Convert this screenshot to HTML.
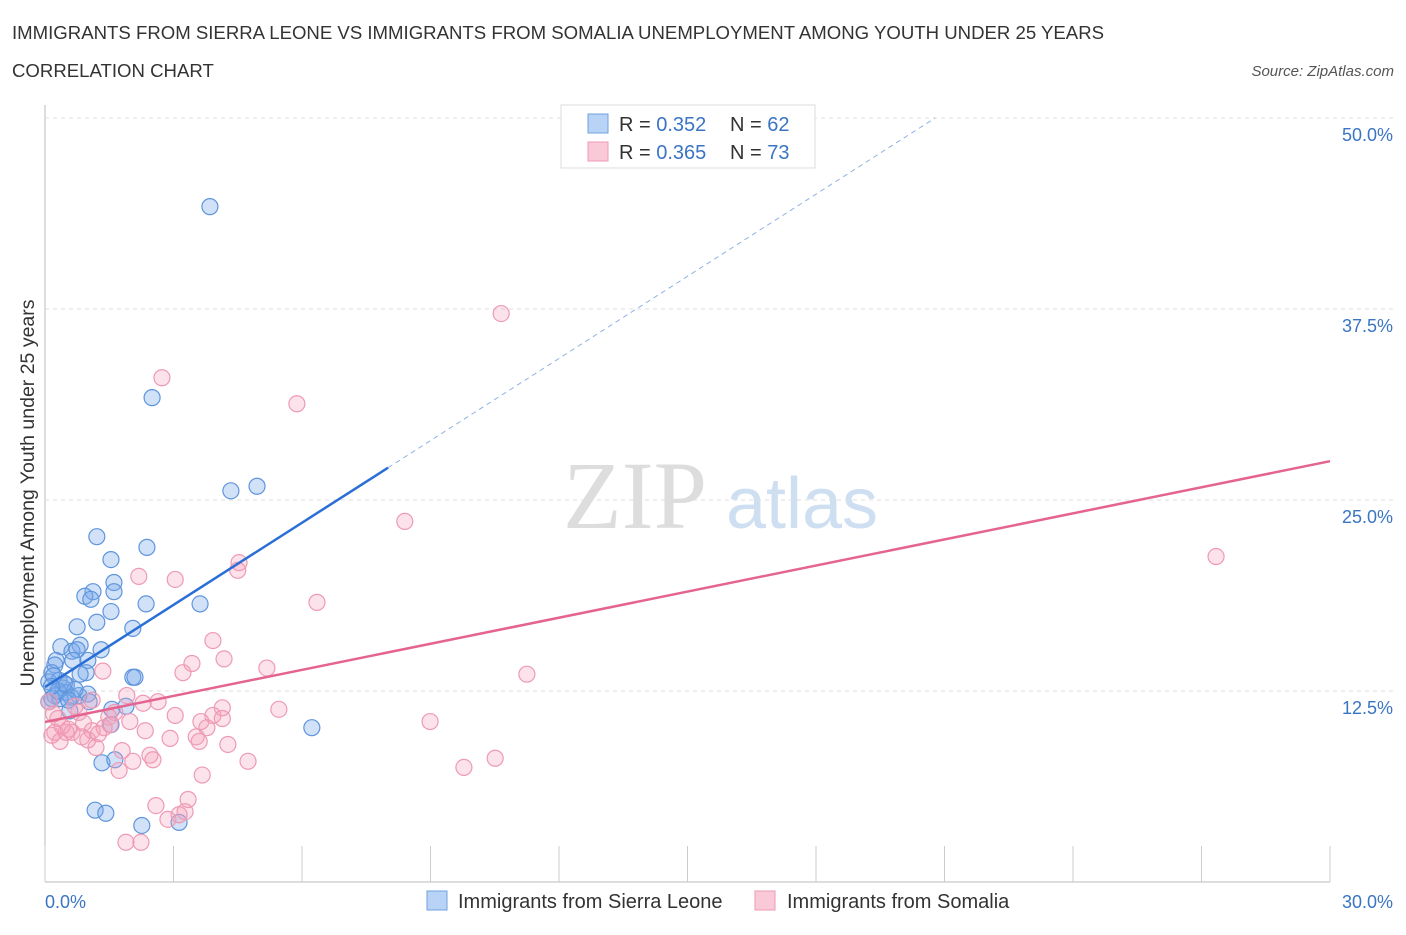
<!DOCTYPE html>
<html><head><meta charset="utf-8"><style>
body{margin:0;background:#fff;width:1406px;height:930px;overflow:hidden;font-family:"Liberation Sans",sans-serif}
</style></head><body>
<svg id="chart" width="1406" height="930" xmlns="http://www.w3.org/2000/svg">
<text x="12" y="39" font-size="18.6" fill="#333">IMMIGRANTS FROM SIERRA LEONE VS IMMIGRANTS FROM SOMALIA UNEMPLOYMENT AMONG YOUTH UNDER 25 YEARS</text>
<text x="12" y="77" font-size="18.6" fill="#333">CORRELATION CHART</text>
<text x="1394" y="76" font-size="15" fill="#555" font-style="italic" text-anchor="end">Source: ZipAtlas.com</text>
<text x="635" y="528" font-size="96" fill="#ddd" font-family="Liberation Serif,serif" text-anchor="middle">ZIP</text>
<text x="802" y="528" font-size="72" fill="#cfdff2" text-anchor="middle">atlas</text>
<g id="grid"></g><g id="ticks"></g><g id="pts"></g><g id="trend"></g>
<text transform="translate(34,493) rotate(-90)" font-size="19.5" fill="#333" text-anchor="middle">Unemployment Among Youth under 25 years</text>
<text x="45" y="908" font-size="18" fill="#3a75c4">0.0%</text>
<text x="1393" y="908" font-size="18" fill="#3a75c4" text-anchor="end">30.0%</text>
<g>
<rect x="561" y="105" width="254" height="63" fill="#fff" stroke="#ddd"/>
<rect x="588" y="114" width="20" height="19" fill="#b8d3f5" stroke="#6fa0e0"/>
<rect x="588" y="142" width="20" height="19" fill="#f9c9d7" stroke="#ee9ab4"/>
<text x="619" y="131" font-size="20" fill="#333">R = <tspan fill="#3a75c4">0.352</tspan><tspan x="730">N = </tspan><tspan fill="#3a75c4">62</tspan></text>
<text x="619" y="159" font-size="20" fill="#333">R = <tspan fill="#3a75c4">0.365</tspan><tspan x="730">N = </tspan><tspan fill="#3a75c4">73</tspan></text>
</g>
<g>
<rect x="427" y="891" width="20" height="19" fill="#b8d3f5" stroke="#6fa0e0"/>
<text x="458" y="908" font-size="20" fill="#333">Immigrants from Sierra Leone</text>
<rect x="755" y="891" width="20" height="19" fill="#f9c9d7" stroke="#ee9ab4"/>
<text x="787" y="908" font-size="20" fill="#333">Immigrants from Somalia</text>
</g>
</svg>
<script>
const yTicks=[12.5,25,37.5,50];
const yTickLabels=["12.5%","25.0%","37.5%","50.0%"];
const xTicks=[0,3,6,9,12,15,18,21,24,27,30];
const blueX=[3.85,2.5,4.34,4.95,1.21,2.38,1.54,1.61,1.12,0.93,1.07,1.61,2.36,3.62,1.54,1.21,0.75,2.05,0.82,0.37,0.63,1.31,0.75,0.26,1.0,0.65,0.23,0.16,0.96,0.82,2.05,2.1,0.33,0.09,0.42,0.49,0.23,0.79,1.0,0.61,0.16,0.35,0.09,1.03,1.89,1.56,0.58,1.54,6.23,1.33,1.63,1.17,1.42,2.26,3.13,0.2,0.5,0.7,0.3,0.45,0.15,0.55];
const blueY=[44.2,31.7,25.6,25.9,22.6,21.9,21.1,19.6,19.0,18.7,18.5,19.0,18.2,18.2,17.7,17.0,16.7,16.6,15.5,15.4,15.1,15.2,15.2,14.5,14.5,14.5,14.2,13.7,13.7,13.6,13.4,13.4,13.2,13.1,12.7,12.4,12.2,12.2,12.3,12.1,12.0,12.0,11.8,11.8,11.5,11.3,11.2,10.3,10.1,7.8,8.0,4.7,4.5,3.7,3.9,13.5,12.9,12.6,12.5,13.0,12.8,11.9];
const pinkX=[10.65,2.73,5.88,8.4,27.34,4.53,4.5,2.19,3.04,6.35,3.92,4.18,3.43,5.18,3.22,1.35,11.25,1.91,2.64,1.1,2.29,5.46,4.14,0.79,1.63,3.04,3.92,1.49,1.98,3.64,4.14,8.99,0.3,3.78,1.38,1.52,2.34,1.1,0.23,0.49,0.16,0.63,0.86,2.92,3.53,3.6,0.35,4.27,1.19,1.8,2.45,10.51,2.52,2.05,4.74,9.78,1.73,3.67,3.34,2.59,3.27,2.87,3.13,1.89,2.24,0.4,0.7,1.0,0.2,0.55,1.25,0.9,0.1];
const pinkY=[37.2,33.0,31.3,23.6,21.3,20.9,20.4,20.0,19.8,18.3,15.8,14.6,14.3,14.0,13.7,13.8,13.6,12.2,11.8,11.9,11.7,11.3,11.4,11.1,11.1,10.9,10.9,10.8,10.5,10.5,10.7,10.5,10.7,10.1,10.1,10.3,9.9,9.9,9.8,9.8,9.6,9.8,9.5,9.4,9.5,9.2,9.2,9.0,8.8,8.6,8.3,8.1,8.0,7.9,7.9,7.5,7.3,7.0,5.4,5.0,4.6,4.1,4.4,2.6,2.6,10.2,11.5,9.3,11.0,10.0,9.7,10.4,11.8];
const blueTrend=[12.76,1.792];
const pinkTrend=[10.47,0.569];
const xs=v=>45+v/30*1285, ys=v=>882-v/12.5*191;
const NS="http://www.w3.org/2000/svg";
function mk(t,a,p){const e=document.createElementNS(NS,t);for(const k in a)e.setAttribute(k,a[k]);document.getElementById(p).appendChild(e);return e;}
let ax=mk('line',{x1:45,y1:105,x2:45,y2:882,stroke:'#bbb'},'grid');

let bx=mk('line',{x1:45,y1:882,x2:1330,y2:882,stroke:'#bbb'},'grid');

yTicks.forEach((v,i)=>{
 let g=mk('line',{x1:45,y1:ys(v),x2:1395,y2:ys(v),stroke:'#ddd','stroke-dasharray':'4,4'},'grid');
 
 let t=mk('text',{x:1393,y:ys(v)+23,'font-size':18,fill:'#3a75c4','text-anchor':'end'},'grid');t.textContent=yTickLabels[i];
 
});
xTicks.forEach(v=>{
 let l=mk('line',{x1:xs(v),y1:846,x2:xs(v),y2:882,stroke:'#ccc'},'ticks');
 
});
blueX.forEach((x,i)=>{
 let c=mk('circle',{cx:xs(x),cy:ys(blueY[i]),r:8,fill:'rgba(120,170,235,0.35)',stroke:'#5f95dc','stroke-width':1.2},'pts');
 
});
pinkX.forEach((x,i)=>{
 let c=mk('circle',{cx:xs(x),cy:ys(pinkY[i]),r:8,fill:'rgba(245,160,185,0.3)',stroke:'#ee9ab4','stroke-width':1.2},'pts');
 
});
const bEnd=(50-blueTrend[0])/blueTrend[1];
let b1=mk('line',{x1:xs(0),y1:ys(blueTrend[0]),x2:xs(8.01),y2:ys(blueTrend[0]+blueTrend[1]*8.01),stroke:'#2a6fd6','stroke-width':2.5},'trend');

let b2=mk('line',{x1:xs(8.01),y1:ys(blueTrend[0]+blueTrend[1]*8.01),x2:xs(bEnd),y2:ys(50),stroke:'#8fb2e3','stroke-width':1,'stroke-dasharray':'5,4'},'trend');

let p1=mk('line',{x1:xs(0),y1:ys(pinkTrend[0]),x2:xs(30),y2:ys(pinkTrend[0]+pinkTrend[1]*30),stroke:'#e5648f','stroke-width':2.5},'trend');

</script>
</body></html>
